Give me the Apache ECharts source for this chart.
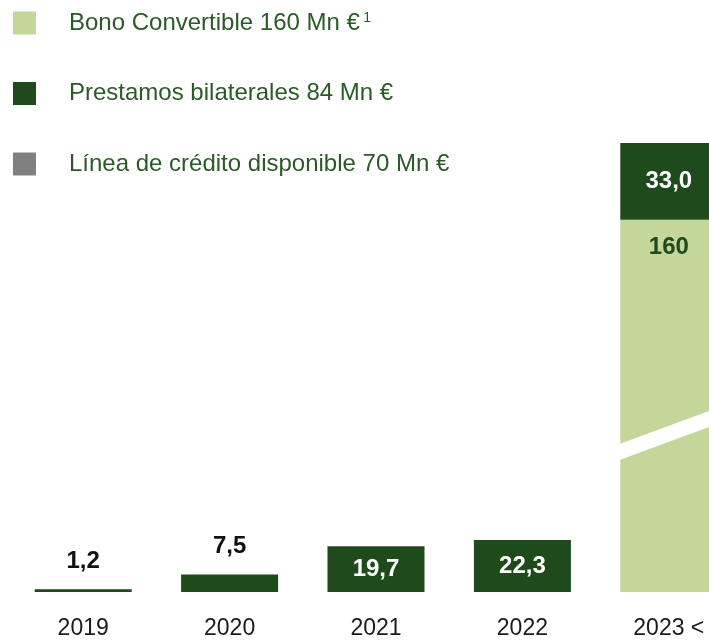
<!DOCTYPE html>
<html><head><meta charset="utf-8">
<script src="https://cdn.jsdelivr.net/npm/echarts@6/dist/echarts.min.js"></script>
<style>html,body{margin:0;padding:0;background:#fff}#c{width:709px;height:640px}</style>
</head><body><div id="c"></div>
<script>
var categories = ['2019', '2020', '2021', '2022', '2023 <'];
var bonoConvertible = [null, null, null, null, 160];
var prestamosBilaterales = [1.2, 7.5, 19.7, 22.3, 33.0];
var lineaCredito = [null, null, null, null, null];
var seriesNames = ['Bono Convertible 160 Mn €', 'Prestamos bilaterales 84 Mn €', 'Línea de crédito disponible 70 Mn €'];
var breakValue = 68;

var FONT = "'Liberation Sans', Arial, sans-serif";
var LIGHT = '#c4d79b', DARK = '#1f4a1c', GRAY = '#808080', TXTGREEN = '#2a5a25';

function fmt(v, d) { return v.toFixed(d).replace('.', ','); }

var darkData = prestamosBilaterales.map(function (v) {
  var inside = v > 15;
  return { value: v, label: { show: true, position: inside ? 'inside' : 'top', distance: 16,
    color: inside ? '#ffffff' : '#111111', formatter: function (p) { return fmt(p.value, 1); } } };
});
var lightData = bonoConvertible.map(function (v) {
  return v == null ? '-' : { value: v, label: { show: true, position: 'insideTop', distance: 16,
    color: DARK, formatter: function (p) { return fmt(p.value, 0); } } };
});

var chart = echarts.init(document.getElementById('c'), null, { renderer: 'canvas' });
chart.setOption({
  animation: false,
  legend: {
    orient: 'vertical', left: 13, top: 11, padding: 0, itemWidth: 23, itemHeight: 23, itemGap: 46.5,
    icon: 'rect', selectedMode: false,
    data: seriesNames,
    formatter: function (n) { return n === seriesNames[0] ? '{t|' + n + '} {s|1}' : '{t|' + n + '}'; },
    textStyle: {
      padding: [0, 0, 0, 28],
      rich: {
        t: { fontFamily: FONT, fontSize: 24, color: TXTGREEN, lineHeight: 23 },
        s: { fontFamily: FONT, fontSize: 14, color: TXTGREEN, lineHeight: 23, verticalAlign: 'top' }
      }
    }
  },
  grid: { left: 10, right: -33, top: 143, bottom: 48, outerBoundsMode: 'none', containLabel: false },
  xAxis: {
    type: 'category', data: categories,
    axisLine: { show: false }, axisTick: { show: false },
    axisLabel: { fontFamily: FONT, fontSize: 23, color: '#1a1a1a', margin: 25 }
  },
  yAxis: { type: 'value', min: 0, max: 193, show: false, splitLine: { show: false } },
  series: [
    { name: seriesNames[0], type: 'bar', stack: 'a', barWidth: 97, data: lightData,
      itemStyle: { color: LIGHT },
      label: { fontFamily: FONT, fontSize: 24, fontWeight: 'bold' } },
    { name: seriesNames[1], type: 'bar', stack: 'a', barWidth: 97, data: darkData,
      itemStyle: { color: DARK },
      label: { fontFamily: FONT, fontSize: 24, fontWeight: 'bold' } },
    { name: seriesNames[2], type: 'bar', stack: 'a', barWidth: 97, data: lineaCredito,
      itemStyle: { color: GRAY } }
  ]
});

// break mark across the 2023 bar
var c = chart.convertToPixel({ gridIndex: 0 }, [4, breakValue]);
var s = -0.37, half = 8, xL = c[0] - 52, xR = c[0] + 60;
function yAt(x) { return c[1] + s * (x - c[0]); }
chart.setOption({
  graphic: [{
    type: 'polygon', z: 100,
    shape: { points: [[xL, yAt(xL) - half], [xR, yAt(xR) - half], [xR, yAt(xR) + half], [xL, yAt(xL) + half]] },
    style: { fill: '#ffffff' }
  }]
});
</script></body></html>
